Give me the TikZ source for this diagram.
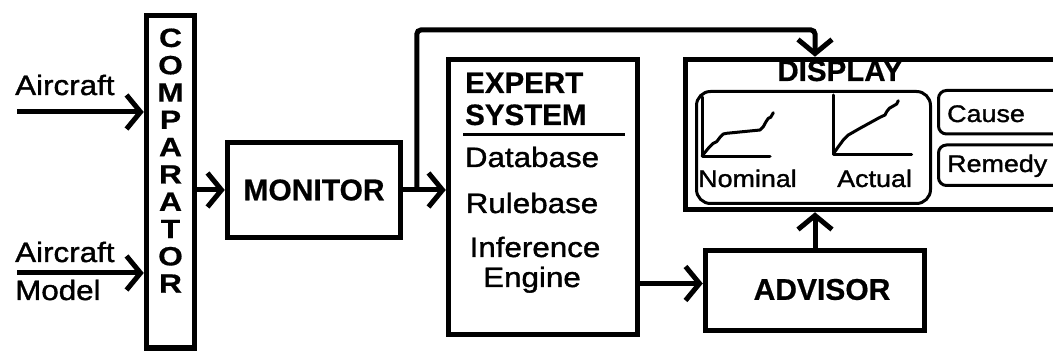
\documentclass[tikz,border=0pt]{standalone}
\usepackage{fontspec}
\setmainfont{Liberation Sans}
\newfontfamily\plainface{Liberation Sans}[FakeStretch=1.12,FakeBold=1.3]
\newfontfamily\headface{Liberation Sans}[FakeBold=0.6]
\newfontfamily\tallface{Liberation Sans}[FakeStretch=1.2,FakeBold=0.6]
\usetikzlibrary{arrows.meta,calc}

\tikzset{
  box/.style={draw, line width=5.5pt, inner sep=0pt},
  wire/.style={line width=5pt},
  arr/.style={wire, -{Straight Barb[length=14pt,width=34pt]}},
  panel/.style={draw, line width=3pt, rounded corners=14pt, inner sep=0pt},
  tagbox/.style={draw, line width=3pt, rounded corners=8pt, inner sep=0pt},
  plot/.style={line width=3pt, line join=round, line cap=round},
  lbl/.style={inner sep=0pt, font=\plainface\fontsize{28}{32}\selectfont},
  smalllbl/.style={inner sep=0pt, font=\plainface\fontsize{24}{28}\selectfont},
  head/.style={inner sep=0pt, font=\headface\bfseries\fontsize{30}{36}\selectfont},
  subhead/.style={inner sep=0pt, font=\headface\bfseries\fontsize{29.5}{34}\selectfont},
  cmpletter/.style={inner sep=0pt, font=\tallface\bfseries\fontsize{26.5}{30}\selectfont},
}

\begin{document}
\begin{tikzpicture}[x=1pt,y=-1pt]
\useasboundingbox (0,0) rectangle (1053,352);
\begin{scope}
\clip (0,0) rectangle (1053,352);

% comparator column
\node[box, minimum width=48pt, minimum height=332.5pt] (cmp) at (170.5,181.75) {};
\foreach \ch [count=\i] in {C,O,M,P,A,R,A,T,O,R}
  \node[cmpletter, anchor=base] (cmp\i) at (170.5,{47+27.3*(\i-1)}) {\ch};

% inputs
\node[lbl, anchor=base west] (air) at (15,95) {Aircraft};
\node[lbl, anchor=base west] (airm) at (15,262) {Aircraft};
\node[lbl, anchor=base west] (mdl) at (15,300) {Model};
\coordinate (src1) at (17,112);
\coordinate (src2) at (17,273);
\draw[arr] (src1) -- (src1 -| cmp.west);
\draw[arr] (src2) -- (src2 -| cmp.west);

% monitor
\node[box, head, minimum width=173pt, minimum height=95pt] (mon) at (314,190) {MONITOR};
\draw[arr] (cmp.east |- mon.west) -- (mon.west);

% expert system
\node[box, minimum width=189pt, minimum height=275pt] (exp) at (543,197) {};
\node[subhead, anchor=base west] (exp1) at (465,93) {EXPERT};
\node[subhead, anchor=base west] (exp2) at (465,125) {SYSTEM};
\draw[line width=3pt] (463,135) -- (625,135);
\node[lbl, anchor=base] (db) at (532,167) {Database};
\node[lbl, anchor=base] (rb) at (532,213) {Rulebase};
\node[lbl, anchor=base] (ie1) at (535,257) {Inference};
\node[lbl, anchor=base] (ie2) at (532,287) {Engine};

\draw[arr] (mon.east) -- (mon.east -| exp.west);
\coordinate (br) at ($(mon.east)!0.32!(mon.east -| exp.west)$);

% display and advisor
\node[box, minimum width=394.5pt, minimum height=150pt] (disp) at (882.75,134.5) {};
\node[box, minimum width=219pt, minimum height=80pt] (adv) at (815,290.5) {};
\node[head, anchor=center] (advt) at (822,289.5) {ADVISOR};

\coordinate (rail) at (600,30);
\draw[arr, rounded corners=4pt] (br) |- (rail) -| (adv.north |- disp.north);
\draw[arr] (adv.north) -- (adv.north |- disp.south);
\path (exp.east) ++(0,86.5) coordinate (eout);
\draw[arr] (eout) -- (eout -| adv.west);

% display contents
\node[inner sep=0pt, font=\headface\bfseries\fontsize{29.5}{34}\selectfont, anchor=base] (dtitle) at (840,81) {DISPLAY};
\node[panel, minimum width=234pt, minimum height=112pt] (charts) at (813.5,147.5) {};
\node[tagbox, minimum width=161.5pt, minimum height=43.5pt] (cause) at (1019.25,112.25) {};
\node[tagbox, minimum width=161.5pt, minimum height=40.5pt] (remedy) at (1019.25,165.25) {};
\node[smalllbl, anchor=base west] (causet) at (947,122) {Cause};
\node[smalllbl, anchor=base west] (remedyt) at (947,172) {Remedy};

% nominal trace
\draw[plot] (702,97) |- (770,156.5);
\draw[plot] (702,156) -- (708.3,148.3) -- (713.3,143.3) -- (716.7,141.7) -- (720,137.3)
  -- (723.3,134) -- (726.7,133.3) -- (760,130) -- (763.3,126.7) -- (766,121.7)
  -- (768.3,118.3) -- (770.7,117.3) -- (773.3,112.7);
\node[smalllbl, anchor=base west] (nom) at (698,187) {Nominal};

% actual trace
\draw[plot] (833,95) |- (911.7,154.5);
\draw[plot] (833.3,154) -- (838.3,146.7) -- (843.3,140) -- (848.3,135) -- (860,128.3)
  -- (880,117.3) -- (885,115) -- (886.7,111.7) -- (889.3,108.3) -- (893.3,106)
  -- (896.7,104) -- (898.3,100.7);
\node[smalllbl, anchor=base west] (act) at (837,187) {Actual};

\end{scope}
\end{tikzpicture}
\end{document}
